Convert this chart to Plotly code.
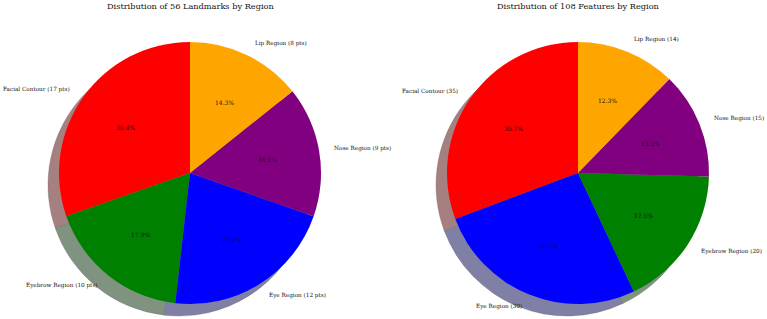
import math
import plotly.graph_objects as go

# ---------------- data ----------------
left_title = "Distribution of 56 Landmarks by Region"
left_regions = ["Facial Contour", "Eyebrow Region", "Eye Region", "Nose Region", "Lip Region"]
left_counts = [17, 10, 12, 9, 8]

right_title = "Distribution of 108 Features by Region"
right_regions = ["Facial Contour", "Eye Region", "Eyebrow Region", "Nose Region", "Lip Region"]
right_counts = [35, 30, 20, 15, 14]

region_colors = {
    "Facial Contour": (255, 0, 0),
    "Eyebrow Region": (0, 128, 0),
    "Eye Region": (0, 0, 255),
    "Nose Region": (128, 0, 128),
    "Lip Region": (255, 165, 0),
}

# ---------------- layout geometry ----------------
W, H = 767, 319
R = 131
SHADOW_DX, SHADOW_DY = -11, 12
FONT = "DejaVu Serif"


def rgb(c):
    return "rgb(%d,%d,%d)" % c


def shadow(c):
    return "rgb(%d,%d,%d)" % tuple(round(0.15 * v + 127.5) for v in c)


fig = go.Figure()
annotations = []


def add_pie(cx, cy, regions, counts, label_fmt, title):
    cols = [region_colors[r] for r in regions]
    total = sum(counts)
    # rotate so the first slice starts at 12 o'clock and runs counterclockwise
    rot = -360.0 * counts[0] / total
    sx, sy = cx + SHADOW_DX, cy + SHADOW_DY
    fig.add_trace(go.Pie(
        values=counts, labels=regions, sort=False, direction="counterclockwise",
        rotation=rot, textinfo="none", hoverinfo="skip", showlegend=False,
        marker=dict(colors=[shadow(c) for c in cols],
                    line=dict(width=0.6, color="rgba(90,90,90,0.5)")),
        domain=dict(x=[(sx - R) / W, (sx + R) / W],
                    y=[(H - sy - R) / H, (H - sy + R) / H]),
    ))
    fig.add_trace(go.Pie(
        values=counts, labels=regions, sort=False, direction="counterclockwise",
        rotation=rot, textinfo="none", showlegend=False,
        marker=dict(colors=[rgb(c) for c in cols], line=dict(width=0)),
        domain=dict(x=[(cx - R) / W, (cx + R) / W],
                    y=[(H - cy - R) / H, (H - cy + R) / H]),
    ))
    start = 90.0
    for reg, cnt in zip(regions, counts):
        span = 360.0 * cnt / total
        mid = math.radians(start + span / 2)
        start += span
        c, s = math.cos(mid), math.sin(mid)
        lx, ly = cx + 1.1 * R * c, cy - 1.1 * R * s
        annotations.append(dict(
            x=lx / W, y=1 - ly / H, xref="paper", yref="paper",
            text=label_fmt(reg, cnt), showarrow=False,
            xanchor="left" if c > 0 else "right", yanchor="middle",
            font=dict(family=FONT, size=5.7, color="#111")))
        px, py = cx + 0.6 * R * c, cy - 0.6 * R * s
        annotations.append(dict(
            x=px / W, y=1 - py / H, xref="paper", yref="paper",
            text="%.1f%%" % (100.0 * cnt / total), showarrow=False,
            xanchor="center", yanchor="middle",
            font=dict(family=FONT, size=6, color="#111")))
    annotations.append(dict(
        x=cx / W, y=1 - 6 / H, xref="paper", yref="paper", text=title,
        showarrow=False, xanchor="center", yanchor="middle",
        font=dict(family=FONT, size=8.2, color="#111")))


add_pie(190, 173, left_regions, left_counts,
        lambda r, n: "%s (%d pts)" % (r, n), left_title)
add_pie(578, 173, right_regions, right_counts,
        lambda r, n: "%s (%d)" % (r, n), right_title)

fig.update_layout(
    width=W, height=H,
    margin=dict(l=0, r=0, t=0, b=0),
    paper_bgcolor="white", plot_bgcolor="white",
    annotations=annotations,
)

fig.write_html("out.html")
